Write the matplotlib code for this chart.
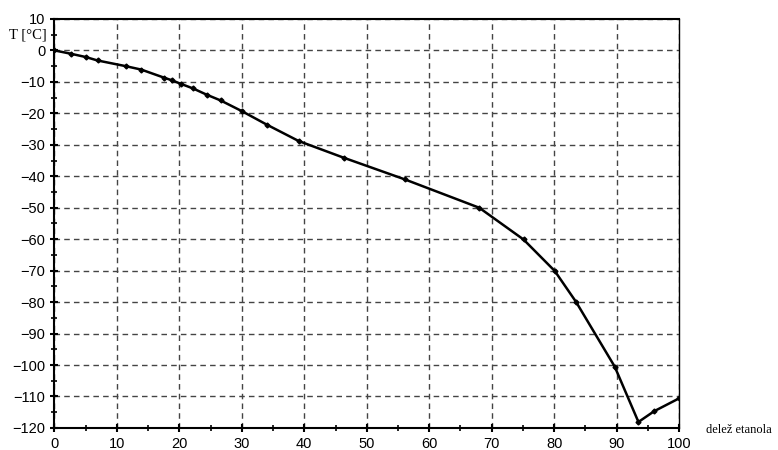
import numpy as np
import matplotlib.pyplot as plt
from matplotlib.ticker import MultipleLocator

# delez etanola [%] in temperatura [degC]
delez = [0, 2.6, 5.0, 6.9, 11.4, 13.9, 17.6, 18.8, 20.2, 22.2, 24.4, 26.6, 30.0,
         34.0, 39.1, 46.3, 56.1, 68.0, 75.1, 80.1, 83.5, 89.7, 93.5, 96.0, 100.0]
temp = [0, -1.05, -2.1, -3.2, -5.0, -6.1, -8.7, -9.5, -10.6, -12.1, -14.1, -15.9, -19.3,
        -23.6, -28.8, -34.1, -41.0, -50.0, -60.1, -70.1, -79.9, -100.5, -118.1, -114.7, -110.6]
xticks = list(range(0, 101, 10))
yticks = list(range(-120, 11, 10))

fig = plt.figure(figsize=(7.78, 4.5), dpi=100)
ax = fig.add_axes([0.070, 0.049, 0.8028, 0.9089])

ax.plot(delez, temp, color='black', linewidth=1.8, marker='D', markersize=2.5)

ax.set_xlim(0, 100)
ax.set_ylim(-120, 10)
ax.set_xticks(xticks)
ax.set_yticks(yticks)
ax.xaxis.set_minor_locator(MultipleLocator(5))
ax.yaxis.set_minor_locator(MultipleLocator(5))
ax.tick_params(which='major', direction='inout', length=6, width=1.5, labelsize=10.5)
ax.tick_params(which='minor', direction='inout', length=4, width=1.2)
for lab in ax.get_xticklabels() + ax.get_yticklabels():
    lab.set_family('Liberation Sans')

ax.grid(True, which='major', color='#444444', linestyle=(0, (4, 3)), linewidth=1.0)
for s in ax.spines.values():
    s.set_linewidth(1.5)
ax.spines['right'].set_linewidth(1.0)

ax.text(-0.012, 5, 'T [°C]', transform=ax.get_yaxis_transform(), ha='right', va='center',
        family='Liberation Serif', fontsize=10.5)
fig.text(0.908, 0.045, 'delež etanola', ha='left', va='center',
         family='Liberation Serif', fontsize=9)

fig.savefig('out.png')
